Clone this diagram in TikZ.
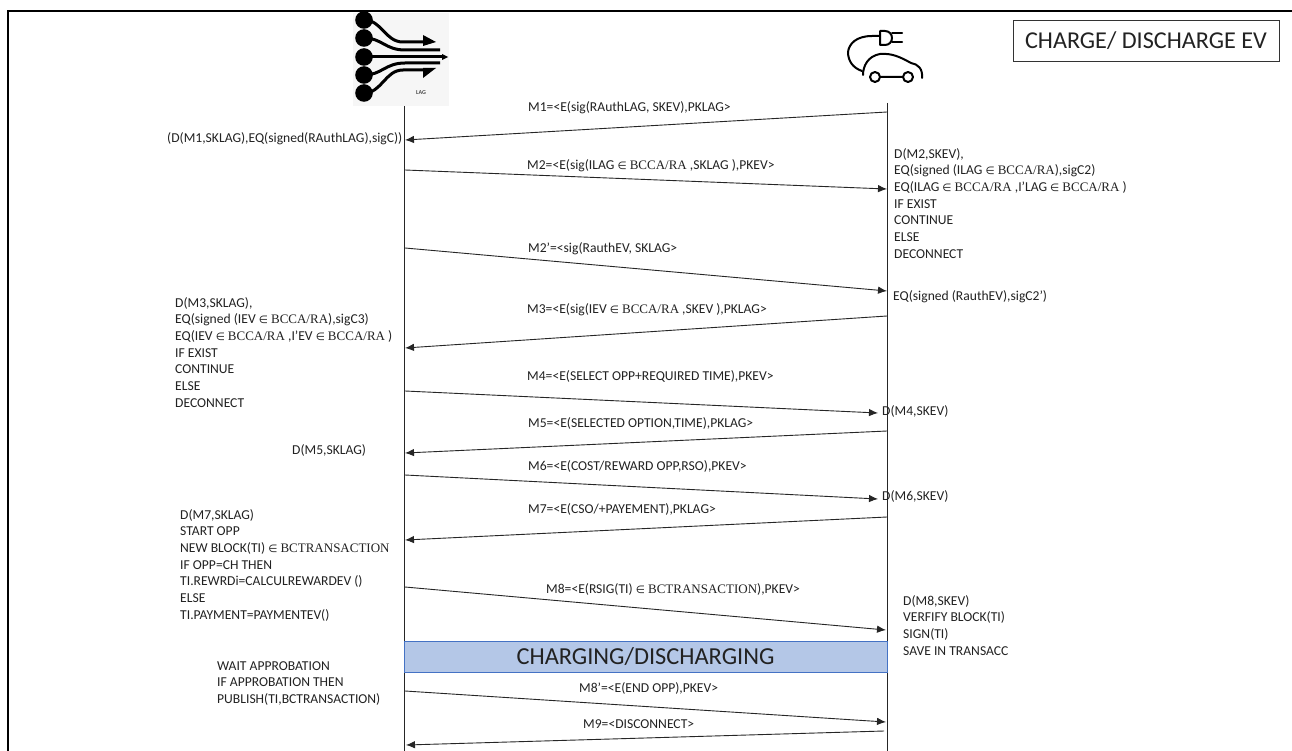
\documentclass[tikz,border=0pt]{standalone}
\usepackage{fontspec}
\setmainfont{Carlito}
\newfontfamily\symfont{DejaVu Sans}
\newfontfamily\serfont{Liberation Serif}
\usetikzlibrary{arrows.meta}
\newcommand{\inn}{{\symfont\fontsize{10.5}{10}\selectfont ∈}}
\newcommand{\ser}[1]{{\serfont\fontsize{13}{16.7}\selectfont #1}}
\definecolor{barfill}{HTML}{B4C7E7}
\definecolor{barline}{HTML}{4472C4}
\definecolor{txt}{HTML}{222222}
\definecolor{iconbg}{HTML}{F6F6F6}
\tikzset{
 msg/.style={draw=black!85,line width=0.9pt,-{Latex[length=9pt,width=7.5pt]}},
 life/.style={draw=black!85,line width=1pt},
 lbl/.style={anchor=west,inner sep=0pt,text=txt,font=\fontsize{13.6}{16.7}\selectfont},
 blk/.style={anchor=north west,inner sep=0pt,align=left,text=txt,font=\fontsize{13.6}{16.7}\selectfont},
 stream/.style={draw=black,line width=3pt,fill=none},
 car/.style={draw=black,line width=2pt,fill=none,line cap=round,line join=round},
}
\begin{document}
\begin{tikzpicture}[x=1pt,y=-1pt]
\useasboundingbox (0,0) rectangle (1292,751);
\fill[white] (0,0) rectangle (1292,751);
% frame
\draw[black,line width=2pt] (8,751) -- (8,11) -- (1292,11);
% LAG icon
\fill[iconbg] (353,13) rectangle (449,106);
\foreach \cy in {20,38,57,75,93} \fill[black] (364,\cy) circle (8.8);
\draw[stream] (364,20) .. controls (382,20) and (385,42) .. (403,42) -- (430,42);
\fill (423,35) -- (436,42) -- (423,46) -- cycle;
\draw[stream] (364,38) .. controls (382,38) and (385,50) .. (405,50) -- (440,50);
\draw[stream] (364,57) -- (444,57);
\fill (442,54) -- (448,57) -- (442,60) -- cycle;
\draw[stream] (364,75) .. controls (382,75) and (385,63) .. (405,63) -- (440,63);
\draw[stream] (364,93) .. controls (382,93) and (385,70) .. (403,70) -- (430,70);
\fill (423,68) -- (436,68) -- (423,78) -- cycle;
\node[inner sep=0pt,font=\bfseries\fontsize{6}{7}\selectfont,text=black!70] (lagtxt) at (421,93) {LAG};
% EV icon
\draw[car] (880,36) -- (872,36) .. controls (856,36) and (849,44) .. (848,52) .. controls (848,61) and (853,68) .. (862,71);
\draw[car,fill=white] (880,31) -- (885,31) .. controls (889,31) and (892,34) .. (892,38) .. controls (892,42) and (889,45) .. (885,45) -- (880,45) -- cycle;
\draw[car] (892,33.5) -- (902,33.5) (892,42.5) -- (902,42.5);
\draw[car] (863,75) .. controls (863,66) and (868,56) .. (880,54) .. controls (892,53) and (900,57) .. (911,63) .. controls (918,64) and (923,69) .. (922,78);
\draw[car] (875,77) circle (5) (908,77) circle (5) (880,77) -- (903,77);
% title
\node[draw=black!80,line width=0.7pt,minimum width=266pt,minimum height=41pt,inner sep=0pt,font=\fontsize{24.2}{28}\selectfont,text=txt] (title) at (1146,41) {CHARGE/ DISCHARGE EV};
% lifelines
\coordinate (lagtop) at (404,106);
\coordinate (lagbot) at (404,751);
\coordinate (evtop) at (887,103);
\coordinate (evbot) at (887,751);
\draw[life] (lagtop) -- (lagbot);
\draw[life] (evtop) -- (evbot);
% charging bar
\node[draw=barline,fill=barfill,line width=0.7pt,minimum width=483pt,minimum height=31pt,inner sep=0pt,font=\fontsize{24.4}{28}\selectfont,text=txt] (bar) at (645.5,656.5) {CHARGING/DISCHARGING};
% endpoints
\coordinate (a1) at (887,112); \coordinate (b1) at (405,140);
\coordinate (a2) at (405,170); \coordinate (b2) at (887,189);
\coordinate (a3) at (405,248); \coordinate (b3) at (887,291);
\coordinate (a4) at (887,316); \coordinate (b4) at (405,348);
\coordinate (a5) at (405,391); \coordinate (b5) at (878,413);
\coordinate (a6) at (887,431); \coordinate (b6) at (405,453);
\coordinate (a7) at (405,475); \coordinate (b7) at (878,499);
\coordinate (a8) at (887,517); \coordinate (b8) at (405,540);
\coordinate (a9) at (405,587); \coordinate (b9) at (886,630);
\coordinate (a10) at (405,691); \coordinate (b10) at (886,722);
\coordinate (a11) at (884,731); \coordinate (b11) at (406,745);
\foreach \i in {1,...,11} \draw[msg] (a\i) -- (b\i);
% message labels
\node[lbl] (m1) at (528,108) {M1=<E(sig(RAuthLAG, SKEV),PKLAG>};
\node[lbl] (m2) at (527,166) {M2=<E(sig(ILAG \inn{} \ser{BCCA/RA} ,SKLAG ),PKEV>};
\node[lbl] (m2p) at (528,249) {M2’=<sig(RauthEV, SKLAG>};
\node[lbl] (m3) at (527,310) {M3=<E(sig(IEV \inn{} \ser{BCCA/RA} ,SKEV ),PKLAG>};
\node[lbl] (m4) at (527,376) {M4=<E(SELECT OPP+REQUIRED TIME),PKEV>};
\node[lbl] (m5) at (528,423) {M5=<E(SELECTED OPTION,TIME),PKLAG>};
\node[lbl] (m6) at (528,466) {M6=<E(COST/REWARD OPP,RSO),PKEV>};
\node[lbl] (m7) at (528,509) {M7=<E(CSO/+PAYEMENT),PKLAG>};
\node[lbl] (m8) at (546,589) {M8=<E(RSIG(TI) \inn{} \ser{BCTRANSACTION}),PKEV>};
\node[lbl] (m8p) at (579,688) {M8’=<E(END OPP),PKEV>};
\node[lbl] (m9) at (583,724) {M9=<DISCONNECT>};
% computation text
\node[lbl] (c1) at (167,139) {(D(M1,SKLAG),EQ(signed(RAuthLAG),sigC))};
\node[blk] (c2) at (894,148) {D(M2,SKEV),\\EQ(signed (ILAG \inn{} \ser{BCCA/RA}),sigC2)\\EQ(ILAG \inn{} \ser{BCCA/RA} ,I’LAG \inn{} \ser{BCCA/RA} )\\IF EXIST\\CONTINUE\\ELSE\\DECONNECT};
\node[lbl] (c3) at (893,297) {EQ(signed (RauthEV),sigC2’)};
\node[blk] (c4) at (175,297) {D(M3,SKLAG),\\EQ(signed (IEV \inn{} \ser{BCCA/RA}),sigC3)\\EQ(IEV \inn{} \ser{BCCA/RA} ,I’EV \inn{} \ser{BCCA/RA} )\\IF EXIST\\CONTINUE\\ELSE\\DECONNECT};
\node[lbl] (c5) at (292,450) {D(M5,SKLAG)};
\node[lbl] (c6) at (882,411) {D(M4,SKEV)};
\node[lbl] (c7) at (882,496) {D(M6,SKEV)};
\node[blk] (c8) at (180,509) {D(M7,SKLAG)\\START OPP\\NEW BLOCK(TI) \inn{} \ser{BCTRANSACTION}\\IF OPP=CH THEN\\TI.REWRDi=CALCULREWARDEV ()\\ELSE\\TI.PAYMENT=PAYMENTEV()};
\node[blk] (c9) at (217,661) {WAIT APPROBATION\\IF APPROBATION THEN\\PUBLISH(TI,BCTRANSACTION)};
\node[blk] (c10) at (903,595) {D(M8,SKEV)\\VERFIFY BLOCK(TI)\\SIGN(TI)\\SAVE IN TRANSACC};
\end{tikzpicture}
\end{document}
